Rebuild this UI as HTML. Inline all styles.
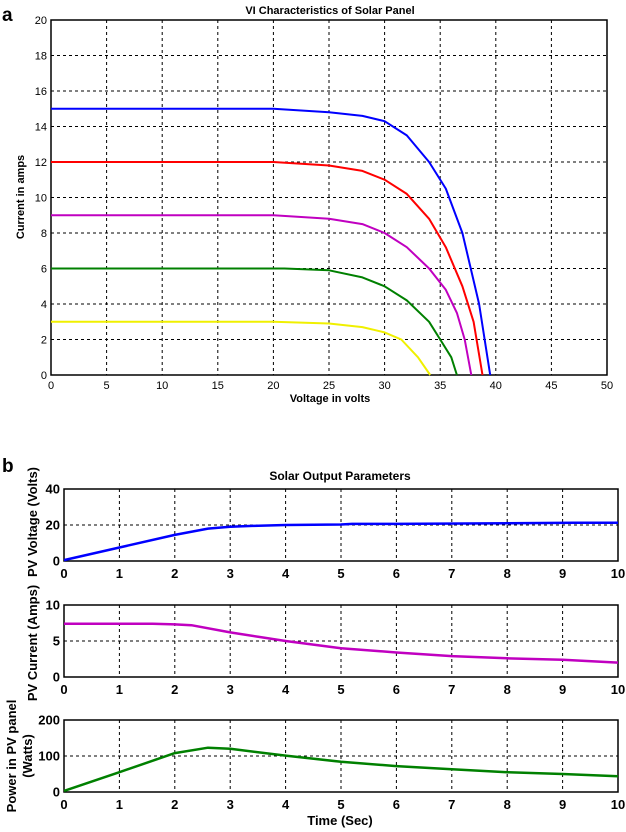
<!DOCTYPE html>
<html><head><meta charset="utf-8"><style>
body{margin:0;background:#fff;}
svg{display:block;font-family:"Liberation Sans",Arial,sans-serif;}
</style></head><body>
<svg id="c" width="626" height="832"></svg>
<script>
const ivVoltBlue=[0,20,25,28,30,32,34,35.5,37,38.5,39.5];
const ivCurrBlue=[15,15,14.8,14.6,14.3,13.5,12,10.5,8,4,0];
const ivVoltRed=[0,20,25,28,30,32,34,35.5,37,38,38.8];
const ivCurrRed=[12,12,11.8,11.5,11,10.2,8.8,7.2,5,3,0];
const ivVoltMag=[0,20,25,28,30,32,34,35.5,36.5,37.2,37.8];
const ivCurrMag=[9,9,8.8,8.5,8,7.2,6,4.8,3.5,2,0];
const ivVoltGreen=[0,21,25,28,30,32,34,35,36,36.5];
const ivCurrGreen=[6,6,5.9,5.5,5,4.2,3,2,1,0];
const ivVoltYellow=[0,20,25,28,30,31.5,33,34.1];
const ivCurrYellow=[3,3,2.9,2.7,2.4,2,1,0];
const ivXTicks=[0,5,10,15,20,25,30,35,40,45,50];
const ivYTicks=[0,2,4,6,8,10,12,14,16,18,20];
const tVolt=[0,1,2,2.6,3,3.4,4,5,5.2,6,9.2,10];
const pvVolt=[0.5,7.5,14.5,18,19,19.5,20,20.3,20.6,20.6,21.2,21.2];
const tCurr=[0,1.6,2,2.3,3,4,5,6,7,8,9,10];
const pvCurr=[7.4,7.4,7.3,7.2,6.2,5,4,3.4,2.9,2.6,2.4,2.0];
const tPow=[0,1,2,2.6,3,4,5,6,7,8,9,10];
const pvPow=[3,55,108,123,120,101,84,72,63,55,50,44];
const timeTicks=[0,1,2,3,4,5,6,7,8,9,10];
const voltTicks=[0,20,40];
const currTicks=[0,5,10];
const powTicks=[0,100,200];

const svg=document.getElementById('c');
const NS='http://www.w3.org/2000/svg';
function el(tag,attrs,parent){const e=document.createElementNS(NS,tag);for(const k in attrs)e.setAttribute(k,attrs[k]);(parent||svg).appendChild(e);return e;}
function txt(s,x,y,attrs,name){const t=el('text',Object.assign({x:x,y:y},attrs));t.textContent=s;


return t;}

function axes(o){
  const sx=v=>o.x0+(v-o.xmin)/(o.xmax-o.xmin)*(o.x1-o.x0);
  const sy=v=>o.y1-(v-o.ymin)/(o.ymax-o.ymin)*(o.y1-o.y0);
  const g=el('g',{});
  
  
  o.xTicks.forEach(v=>{const x=sx(v);
    if(v!==o.xmin&&v!==o.xmax){const l=el('line',{x1:x,x2:x,y1:o.y0,y2:o.y1,stroke:'#000','stroke-width':1,'stroke-dasharray':'3,3'},g);
      }
    txt(String(v),x,o.y1+o.xtOff,{'font-size':o.fs,'font-weight':o.fw,'text-anchor':'middle'},'x-tick-label');});
  o.yGrid.forEach(v=>{const y=sy(v);
    if(v!==o.ymin&&v!==o.ymax){const l=el('line',{x1:o.x0,x2:o.x1,y1:y,y2:y,stroke:'#000','stroke-width':1,'stroke-dasharray':'3,3'},g);
      }});
  o.yTicks.forEach(v=>{txt(String(v),o.x0-4,sy(v)+o.fs*0.35,{'font-size':o.fs,'font-weight':o.fw,'text-anchor':'end'},'y-tick-label');});
  const r=el('rect',{x:o.x0,y:o.y0,width:o.x1-o.x0,height:o.y1-o.y0,fill:'none',stroke:'#000','stroke-width':1.5},g);
  
  return {sx,sy};
}
function line(ax,xs,ys,color,name,w){
  const d=xs.map((x,i)=>(i?'L':'M')+ax.sx(x).toFixed(1)+','+ax.sy(ys[i]).toFixed(1)).join('');
  const p=el('path',{d:d,fill:'none',stroke:color,'stroke-width':w||2,'stroke-linejoin':'round'});
  
  
}

// panel a
txt('a',2,21,{'font-size':19,'font-weight':'bold'},'panel-a-label');
txt('VI Characteristics of Solar Panel',330,14,{'font-size':11,'font-weight':'bold','text-anchor':'middle'},'chart-title-a');
const A=axes({name:'iv-chart',x0:51,x1:607,y0:20,y1:375,xmin:0,xmax:50,ymin:0,ymax:20,xTicks:ivXTicks,yTicks:ivYTicks,yGrid:ivYTicks,fs:11,fw:'normal',xtOff:14});
line(A,ivVoltYellow,ivCurrYellow,'#f0f000','iv-curve-3a');
line(A,ivVoltGreen,ivCurrGreen,'#008000','iv-curve-6a');
line(A,ivVoltMag,ivCurrMag,'#c000c0','iv-curve-9a');
line(A,ivVoltRed,ivCurrRed,'#ff0000','iv-curve-12a');
line(A,ivVoltBlue,ivCurrBlue,'#0000ff','iv-curve-15a');
txt('Voltage in volts',330,402,{'font-size':11,'font-weight':'bold','text-anchor':'middle'},'x-axis-title-a');
txt('Current in amps',0,0,{'font-size':11,'font-weight':'bold','text-anchor':'middle',transform:'translate(24,197) rotate(-90)'},'y-axis-title-a');

// panel b
txt('b',2,472,{'font-size':19,'font-weight':'bold'},'panel-b-label');
txt('Solar Output Parameters',340,480,{'font-size':12,'font-weight':'bold','text-anchor':'middle'},'chart-title-b');
const common={x0:64,x1:618,xmin:0,xmax:10,xTicks:timeTicks,fs:13,fw:'bold',xtOff:17};
const B1=axes(Object.assign({name:'voltage-chart',y0:489,y1:561,ymin:0,ymax:40,yTicks:voltTicks,yGrid:voltTicks},common));
line(B1,tVolt,pvVolt,'#0000ff','pv-voltage-line',2.5);
const B2=axes(Object.assign({name:'current-chart',y0:605,y1:677,ymin:0,ymax:10,yTicks:currTicks,yGrid:currTicks},common));
line(B2,tCurr,pvCurr,'#c000c0','pv-current-line',2.5);
const B3=axes(Object.assign({name:'power-chart',y0:720,y1:792,ymin:0,ymax:200,yTicks:powTicks,yGrid:powTicks},common));
line(B3,tPow,pvPow,'#008000','pv-power-line',2.5);
txt('PV Voltage (Volts)',0,0,{'font-size':13,'font-weight':'bold','text-anchor':'middle',transform:'translate(37,522) rotate(-90)'},'y-axis-title-voltage');
txt('PV Current (Amps)',0,0,{'font-size':13,'font-weight':'bold','text-anchor':'middle',transform:'translate(37,643) rotate(-90)'},'y-axis-title-current');
txt('Power in PV panel',0,0,{'font-size':13,'font-weight':'bold','text-anchor':'middle',transform:'translate(16,756) rotate(-90)'},'y-axis-title-power-1');
txt('(Watts)',0,0,{'font-size':13,'font-weight':'bold','text-anchor':'middle',transform:'translate(32,756) rotate(-90)'},'y-axis-title-power-2');
txt('Time (Sec)',340,825,{'font-size':13,'font-weight':'bold','text-anchor':'middle'},'x-axis-title-time');
</script>
</body></html>
